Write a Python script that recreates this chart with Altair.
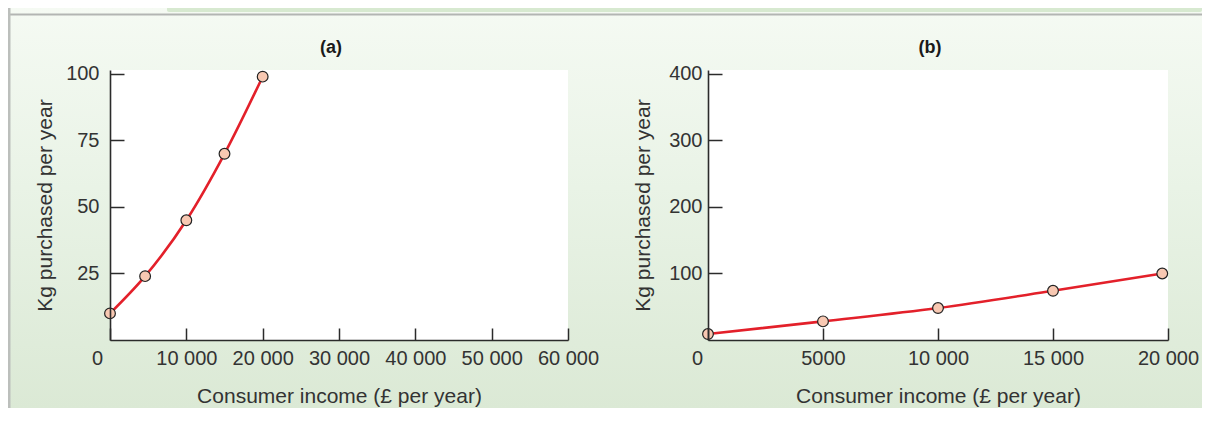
import altair as alt
import pandas as pd

# ---- data ----
income_a = [0, 4600, 10000, 15000, 20000]
qty_a = [10, 24, 45, 70, 99]
income_b = [0, 5000, 10000, 15000, 19750]
qty_b = [9, 28, 48, 74, 100]

x_ticks_a = [0, 10000, 20000, 30000, 40000, 50000, 60000]
y_ticks_a = [25, 50, 75, 100]
x_ticks_b = [0, 5000, 10000, 15000, 20000]
y_ticks_b = [100, 200, 300, 400]

panel_titles = ["(a)", "(b)"]
x_title = "Consumer income (£ per year)"
y_title = "Kg purchased per year"

# ---- style ----
FONT = "Liberation Sans"
TEXT_COLOR = "#333333"
AXIS_COLOR = "#2b2b2b"
LINE_COLOR = "#e3202a"
POINT_FILL = "#f8c8b2"
PLOT_H = 270

LABEL_EXPR = (
    "datum.value >= 10000 ? replace(format(datum.value, ','), ',', ' ') : format(datum.value, 'd')"
)


def x_axis(values, zero_shift):
    return alt.Axis(
        values=values,
        title=x_title,
        labelExpr=LABEL_EXPR,
        labelOffset={"condition": {"test": "datum.value === 0", "value": zero_shift}, "value": 0},
        labelFlush=False,
        labelOverlap=False,
        labelBound=False,
        tickSize={"expr": "-12"},
        labelPadding=20,
        titlePadding=17,
        titleFontSize=21,
        grid=False,
        zindex=1,
    )


def y_axis(values, label_pad, title_pad):
    return alt.Axis(
        values=values,
        title=y_title,
        labelFlush=False,
        labelOverlap=False,
        tickSize={"expr": "-14"},
        labelPadding=label_pad,
        titlePadding=title_pad,
        titleFontSize=21,
        grid=False,
        zindex=1,
    )


one = pd.DataFrame({"d": [0]})


def panel(income, qty, xdom, ydom, xticks, yticks, width, left, right, title, first,
          zero_shift, label_pad, title_pad):
    df = pd.DataFrame({"income": income, "qty": qty})
    grad = alt.Gradient(
        gradient="linear",
        stops=[
            alt.GradientStop(color="#f5faf3", offset=0),
            alt.GradientStop(color="#e9f3e6", offset=0.45),
            alt.GradientStop(color="#dbe9d5", offset=1),
        ],
        x1=0, x2=0, y1=0, y2=1,
    )
    top = -62
    bottom = 338
    layers = []
    layers.append(
        alt.Chart(one).mark_rect(fill=grad, strokeWidth=0).encode(
            x=alt.value(-left), x2=alt.value(right), y=alt.value(top), y2=alt.value(bottom)
        )
    )
    # green strip of the box above and grey separator line
    strip_left = 159 - 102 if first else -left
    strip_right = right if first else 1194 - 700
    layers.append(
        alt.Chart(one).mark_rect(fill="#d7e9d0", cornerRadiusBottomLeft=4 if first else 0,
                                 cornerRadiusBottomRight=0 if first else 4).encode(
            x=alt.value(strip_left), x2=alt.value(strip_right), y=alt.value(top), y2=alt.value(top + 4)
        )
    )
    layers.append(
        alt.Chart(one).mark_rect(fill="#b3b5b3").encode(
            x=alt.value(-left + (2 if first else 0)), x2=alt.value(right),
            y=alt.value(-56.5), y2=alt.value(-54.5)
        )
    )
    if first:
        layers.append(
            alt.Chart(one).mark_rect(fill="#bcbfbc").encode(
                x=alt.value(-left), x2=alt.value(-left + 2.5), y=alt.value(top), y2=alt.value(bottom)
            )
        )
    # white plot area
    layers.append(
        alt.Chart(one).mark_rect(fill="white").encode(
            x=alt.value(0), x2=alt.value(width), y=alt.value(0), y2=alt.value(PLOT_H)
        )
    )
    xenc = alt.X("income:Q", scale=alt.Scale(domain=xdom, nice=False, zero=True),
                 axis=x_axis(xticks, zero_shift))
    yenc = alt.Y("qty:Q", scale=alt.Scale(domain=ydom, nice=False, zero=True),
                 axis=y_axis(yticks, label_pad, title_pad))
    layers.append(
        alt.Chart(df).mark_line(color=LINE_COLOR, strokeWidth=2.6, interpolate="monotone").encode(
            x=xenc, y=yenc
        )
    )
    layers.append(
        alt.Chart(df).mark_point(filled=True, fill=POINT_FILL, stroke="#222222", strokeWidth=1.2,
                                 size=115, opacity=1, shape="circle").encode(
            x="income:Q", y="qty:Q"
        )
    )
    layers.append(
        alt.Chart(pd.DataFrame({"t": [title]})).mark_text(
            font=FONT, fontSize=18, fontWeight="bold", color="#1a1a1a", baseline="alphabetic", align="center"
        ).encode(text="t:N", x=alt.value(width / 2 - 8), y=alt.value(-17))
    )
    return alt.layer(*layers).properties(width=width, height=PLOT_H)


pa = panel(income_a, qty_a, [0, 60000], [0, 101.5], x_ticks_a, y_ticks_a, 458, 102, 498,
           panel_titles[0], True, -13, 25, 10)
pb = panel(income_b, qty_b, [0, 20000], [0, 406], x_ticks_b, y_ticks_b, 460, 100, 494,
           panel_titles[1], False, -11, 20, 15)

chart = (
    alt.hconcat(pa, pb, spacing=0)
    .properties(padding=0, background="white")
    .configure_view(strokeWidth=0)
    .configure_axis(
        domainColor=AXIS_COLOR,
        domainWidth=1.6,
        tickColor=AXIS_COLOR,
        tickWidth=1.5,
        labelFont=FONT,
        labelFontSize=20,
        labelColor=TEXT_COLOR,
        titleFont=FONT,
        titleFontWeight="normal",
        titleColor=TEXT_COLOR,
    )
)

chart.save("out.html", embed_options={"renderer": "svg", "actions": False})
